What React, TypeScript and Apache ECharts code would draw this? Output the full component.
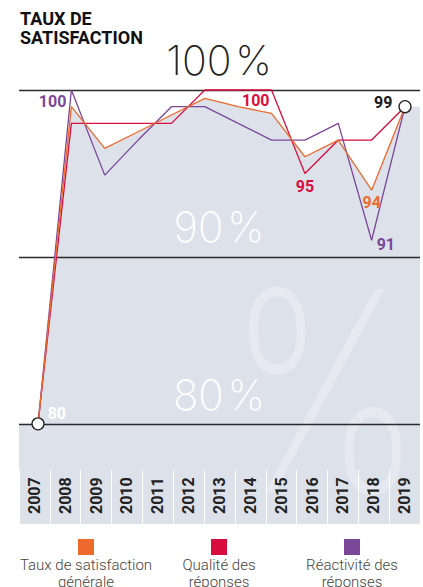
import React, { useEffect, useRef } from "react";
import * as echarts from "echarts";

// ---- data ----
const years = ["2007", "2008", "2009", "2010", "2011", "2012", "2013", "2014", "2015", "2016", "2017", "2018", "2019"];
const satisfaction = [80, 99, 96.5, 97.5, 98.5, 99.5, 99, 98.6, 96, 97, 94, 99];
const qualite = [80, 98, 98, 98, 98, 100, 100, 100, 95, 97, 97, 99];
const reactivite = [80, 100, 94.9, 97, 99, 99, 98, 97, 97, 98, 91, 99];
const seriesNames = ["Taux de satisfaction\ngénérale", "Qualité des\nréponses", "Réactivité des\nréponses"];
const seriesColors = ["#ec6a2c", "#d90d3e", "#7b4799"];
const bandLabels = ["100\u200A%", "90\u200A%", "80\u200A%"];
const bandValues = [100, 90, 80];

// ---- layout ----
const W = 423;
const H = 587;
const gridLeft = 19;
const gridRight = 3;
const gridTop = 90;
const gridBottom = 63;
const xMin = -0.57;
const xMax = 11.45;
const yMin = 74;
const yMax = 100;

type Ann = { index: number; pos: string; distance: number; offset: number[]; color: string };
const annSat: Ann[] = [
  { index: 0, pos: "right", distance: 3, offset: [0, -10], color: "#ffffff" },
  { index: 10, pos: "bottom", distance: 3, offset: [0, 0], color: "#ec6a2c" },
  { index: 11, pos: "left", distance: 6, offset: [0, -4], color: "#1a1a1a" },
];
const annQual: Ann[] = [
  { index: 7, pos: "left", distance: 1, offset: [0, 10], color: "#d90d3e" },
  { index: 8, pos: "bottom", distance: 4, offset: [0, 0], color: "#d90d3e" },
];
const annReact: Ann[] = [
  { index: 1, pos: "left", distance: 4, offset: [0, 11], color: "#7b4799" },
  { index: 10, pos: "right", distance: 4, offset: [0, 4], color: "#7b4799" },
];
const circled = [0, 11];

const LABEL_FONT = "Roboto";

function buildData(values: number[], anns: Ann[], withCircles: boolean) {
  return values.map((v, i) => {
    const a = anns.find((x) => x.index === i);
    const isCircle = withCircles && circled.includes(i);
    if (!a && !isCircle) return [i, v];
    const item: any = { value: [i, v] };
    if (isCircle) {
      item.symbol = "circle";
      item.symbolSize = 12;
      item.itemStyle = { color: "#ffffff", borderColor: "#222222", borderWidth: 1.3 };
    } else {
      item.symbol = "circle";
      item.symbolSize = 2;
      item.itemStyle = { color: "rgba(0,0,0,0)" };
    }
    if (a) {
      item.label = {
        show: true,
        position: a.pos,
        distance: a.distance,
        offset: a.offset,
        color: a.color,
        fontFamily: LABEL_FONT,
        fontWeight: "bold",
        fontSize: 16,
        formatter: () => String(Math.round(v)),
      };
    }
    return item;
  });
}

export default function App() {
  const ref = useRef<HTMLDivElement>(null);
  useEffect(() => {
    if (!ref.current) return;
    const chart = echarts.init(ref.current, undefined, { renderer: "svg" });

    const fond = [[xMin, satisfaction[0]], ...satisfaction.map((v, i) => [i, v]), [xMax, satisfaction[satisfaction.length - 1]]];

    const lineSeries = [satisfaction, qualite, reactivite].map((vals, k) => ({
      type: "line",
      name: seriesNames[k],
      xAxisIndex: 1,
      yAxisIndex: 0,
      data: buildData(vals, [annSat, annQual, annReact][k], k === 0),
      symbol: "none",
      showSymbol: true,
      clip: false,
      z: k === 0 ? 7 : 5,
      lineStyle: { color: seriesColors[k], width: 1.3 },
      itemStyle: { color: seriesColors[k] },
      emphasis: { disabled: true },
    }));

    const legendX = [86, 219, 352];
    const graphics: any[] = [
      {
        type: "text",
        left: 20,
        top: 9,
        z: 10,
        style: { text: "TAUX DE\nSATISFACTION", font: "bold 18px Roboto", fill: "#111", lineHeight: 19 },
      },
      {
        type: "text",
        x: 325,
        y: 391,
        scaleX: 0.94,
        scaleY: 1.19,
        z: 2,
        silent: true,
        style: {
          text: "%",
          font: "200 235px Inter",
          fill: "#e6e9f0",
          align: "center",
          verticalAlign: "middle",
          textAlign: "center",
          textVerticalAlign: "middle",
        },
      },
    ];
    const bandY = [60, 226, 394];
    bandLabels.forEach((t, i) => {
      graphics.push({
        type: "text",
        x: 219,
        y: bandY[i],
        z: 3,
        style: {
          text: t,
          font: `200 ${i === 0 ? 41 : 42}px Inter`,
          fill: i === 0 ? "#222222" : "#ffffff",
          align: "center",
          verticalAlign: "middle",
          textAlign: "center",
          textVerticalAlign: "middle",
        },
      });
    });
    seriesNames.forEach((n, i) => {
      graphics.push({
        type: "rect",
        shape: { x: legendX[i] - 8, y: 539, width: 16, height: 16 },
        style: { fill: seriesColors[i] },
        z: 10,
      });
      graphics.push({
        type: "text",
        x: legendX[i],
        y: 556,
        z: 10,
        style: {
          text: n,
          font: "300 15px Roboto",
          fill: "#444444",
          lineHeight: 17,
          align: "center",
          textAlign: "center",
          verticalAlign: "top",
          textVerticalAlign: "top",
        },
      });
    });

    chart.setOption({
      animation: false,
      grid: { left: gridLeft, right: gridRight, top: gridTop, bottom: gridBottom },
      xAxis: [
        {
          type: "category",
          data: years,
          boundaryGap: true,
          axisLine: { show: false },
          axisTick: { show: true, inside: true, length: 54, lineStyle: { color: "#ffffff", width: 1 } },
          axisLabel: {
            inside: true,
            rotate: 90,
            margin: 10,
            color: "#222222",
            fontFamily: LABEL_FONT,
            fontWeight: "bold",
            fontSize: 16,
          },
          splitLine: { show: false },
          z: 6,
        },
        { type: "value", min: xMin, max: xMax, show: false },
      ],
      yAxis: [{ type: "value", min: yMin, max: yMax, show: false, splitLine: { show: false } }],
      series: [
        {
          type: "line",
          name: "fond",
          xAxisIndex: 1,
          yAxisIndex: 0,
          data: fond,
          symbol: "none",
          lineStyle: { width: 0 },
          areaStyle: { color: "#dde1ea", opacity: 1, origin: "start" },
          z: 1,
          silent: true,
          markLine: {
            silent: true,
            symbol: "none",
            label: { show: false },
            lineStyle: { color: "#2a2a2a", width: 1.3, type: "solid" },
            data: bandValues.map((v) => ({ yAxis: v })),
            z: 4,
          },
        },
        ...lineSeries,
      ],
      graphic: graphics,
    });
    return () => chart.dispose();
  }, []);
  return <div ref={ref} style={{ width: W, height: H, position: "absolute", left: 0, top: 0 }} />;
}
